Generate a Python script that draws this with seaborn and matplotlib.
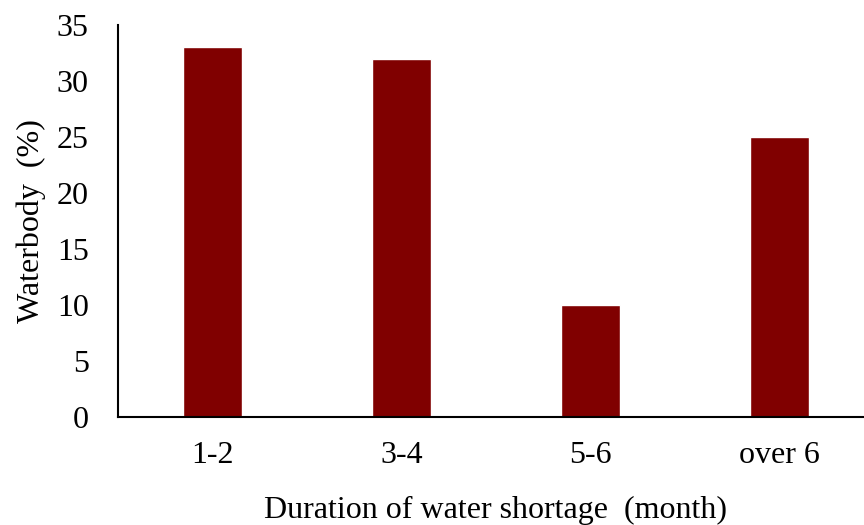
import matplotlib
matplotlib.use("Agg")
import matplotlib.pyplot as plt
import pandas as pd
import seaborn as sns

durations = ["1-2", "3-4", "5-6", "over 6"]
waterbody_pct = [33, 32, 10, 25]

sns.set_style("white")
plt.rcParams["font.family"] = ["Liberation Serif", "DejaVu Serif"]
plt.rcParams["text.color"] = "black"
plt.rcParams["axes.labelcolor"] = "black"
plt.rcParams["xtick.color"] = "black"
plt.rcParams["ytick.color"] = "black"

df = pd.DataFrame({"duration": durations, "pct": waterbody_pct})

fig = plt.figure(figsize=(8.64, 5.25), dpi=100)
ax = fig.add_axes([118 / 864, 108 / 525, 756 / 864, 392 / 525])

sns.barplot(data=df, x="duration", y="pct", color="#800000", saturation=1,
            width=0.31, ax=ax)

ax.set_xlim(-0.5, 3.5)
ax.set_ylim(0, 35)
ax.set_yticks(range(0, 36, 5))
ax.tick_params(axis="both", length=0, labelsize=23, colors="black")
ax.tick_params(axis="y", pad=21)
ax.tick_params(axis="x", pad=17)
ax.set_xlabel("Duration of water shortage  (month)", fontsize=23, labelpad=19)
ax.set_ylabel("Waterbody  (%)", fontsize=23, labelpad=8)

for side in ["top", "right"]:
    ax.spines[side].set_visible(False)
for side in ["left", "bottom"]:
    ax.spines[side].set_color("black")
    ax.spines[side].set_linewidth(1.5)

fig.savefig("out.png", dpi=100)
